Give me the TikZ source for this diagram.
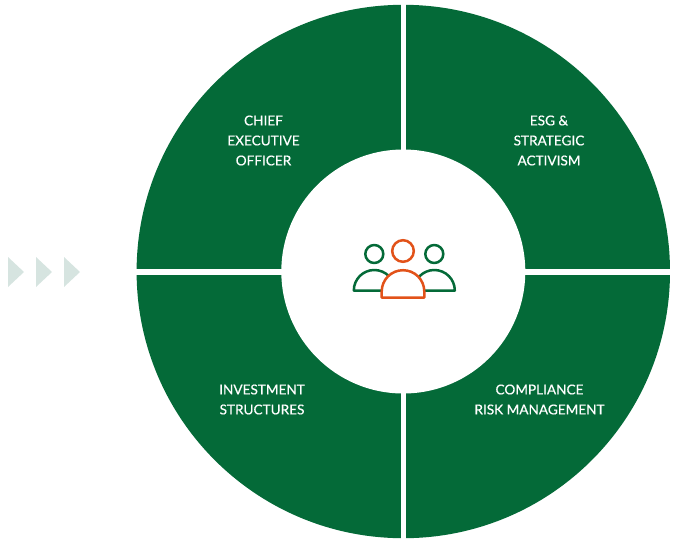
\documentclass[tikz,border=0pt]{standalone}
\usepackage{fontspec}
\setmainfont{Lato}[FakeBold=0.45]
\definecolor{ringgreen}{RGB}{4,106,56}
\definecolor{iconorange}{RGB}{226,82,25}
\definecolor{arrowgrey}{RGB}{214,228,224}
\tikzset{
  lbl/.style={text=white, align=center, font=\fontsize{13.6}{20}\selectfont, inner sep=0pt},
  tri/.style={fill=arrowgrey, draw=none},
  iconline/.style={line width=2.5pt, fill=white, line join=round}
}
\begin{document}
\begin{tikzpicture}[x=1pt,y=-1pt]
\useasboundingbox (0,0) rectangle (677,544);
% ring
\fill[ringgreen] (403.3,271.5) circle[radius=266.7pt];
\fill[white] (403.3,271.5) circle[radius=122pt];
\fill[white] (400.8,0) rectangle (405.8,544);
\fill[white] (130,269) rectangle (677,275);
% labels
\node[lbl] (ceo) at (263.5,140.5) {CHIEF\\EXECUTIVE\\OFFICER};
\node[lbl] (esg) at (549,140.5) {ESG \&\\STRATEGIC\\ACTIVISM};
\node[lbl] (inv) at (262,399.5) {INVESTMENT\\STRUCTURES};
\node[lbl] (comp) at (539.5,399.5) {COMPLIANCE\\RISK MANAGEMENT};
% arrows
\fill[tri] (8,257) -- (24,272) -- (8,287) -- cycle;
\fill[tri] (36,257) -- (52,272) -- (36,287) -- cycle;
\fill[tri] (64,257) -- (80,272) -- (64,287) -- cycle;
% icon
\draw[iconline, draw=ringgreen] (353.8,290.5) arc[start angle=180, end angle=360, radius=20.5] -- cycle;
\draw[iconline, draw=ringgreen] (413.8,290.5) arc[start angle=180, end angle=360, radius=20.5] -- cycle;
\draw[iconline, draw=ringgreen] (374.3,254) circle[radius=9pt];
\draw[iconline, draw=ringgreen] (434.3,254) circle[radius=9pt];
\draw[iconline, draw=iconorange] (381.7,297.5) -- (381.7,291.5) arc[start angle=180, end angle=360, radius=21.3] -- (424.3,297.5) -- cycle;
\draw[iconline, draw=iconorange] (403,251) circle[radius=10.8pt];
\end{tikzpicture}
\end{document}
